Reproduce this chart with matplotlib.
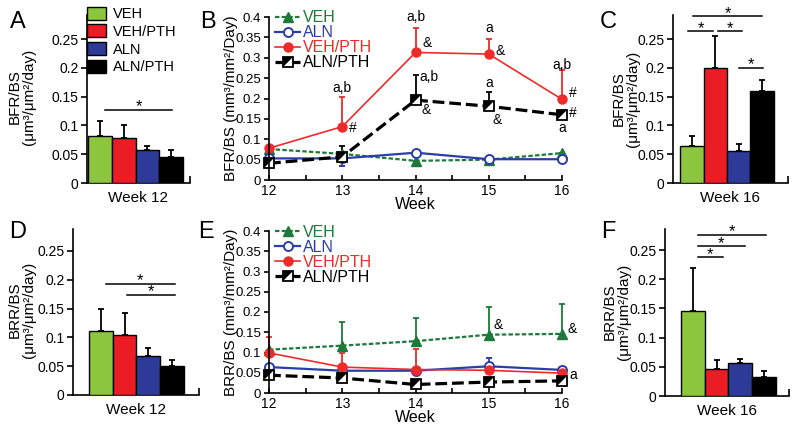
import matplotlib
matplotlib.use('Agg')
import matplotlib.pyplot as plt
import numpy as np

plt.rcParams['font.family'] = ['Liberation Sans', 'DejaVu Sans']
plt.rcParams['lines.scale_dashes'] = False
plt.rcParams['axes.linewidth'] = 1.2

# ---------------- data ----------------
groups = ['VEH', 'VEH/PTH', 'ALN', 'ALN/PTH']
bar_colors = ['#8cc63e', '#ec1c24', '#2e3a97', '#000000']

bfr_wk12 = [0.082, 0.079, 0.057, 0.045]
bfr_wk12_err = [0.026, 0.022, 0.007, 0.013]
bfr_wk16 = [0.065, 0.200, 0.055, 0.160]
bfr_wk16_err = [0.016, 0.055, 0.013, 0.018]
brr_wk12 = [0.111, 0.104, 0.068, 0.050]
brr_wk12_err = [0.039, 0.039, 0.014, 0.010]
brr_wk16 = [0.146, 0.047, 0.056, 0.032]
brr_wk16_err = [0.074, 0.015, 0.008, 0.010]

weeks = [12, 13, 14, 15, 16]
series = ['VEH', 'ALN', 'VEH/PTH', 'ALN/PTH']
line_colors = ['#1d7a3a', '#2b3ea8', '#ee2a2a', '#000000']

bfr_veh = [0.076, 0.064, 0.047, 0.050, 0.066]
bfr_veh_lo = [0, 0, 0.010, 0.011, 0]
bfr_veh_hi = [0, 0, 0, 0, 0]
bfr_aln = [0.053, 0.053, 0.067, 0.051, 0.051]
bfr_aln_lo = [0, 0.018, 0, 0, 0]
bfr_aln_hi = [0, 0, 0, 0, 0]
bfr_vehpth = [0.078, 0.131, 0.313, 0.309, 0.198]
bfr_vehpth_lo = [0, 0, 0, 0, 0]
bfr_vehpth_hi = [0, 0.073, 0.061, 0.038, 0.072]
bfr_alnpth = [0.041, 0.057, 0.196, 0.181, 0.160]
bfr_alnpth_lo = [0, 0, 0, 0, 0]
bfr_alnpth_hi = [0, 0.027, 0.061, 0.035, 0.010]

brr_veh = [0.107, 0.117, 0.128, 0.144, 0.146]
brr_veh_lo = [0, 0, 0, 0, 0]
brr_veh_hi = [0, 0.058, 0.058, 0.069, 0.074]
brr_aln = [0.064, 0.055, 0.055, 0.066, 0.057]
brr_aln_lo = [0, 0, 0, 0, 0]
brr_aln_hi = [0, 0, 0, 0.020, 0]
brr_vehpth = [0.099, 0.064, 0.058, 0.056, 0.049]
brr_vehpth_lo = [0, 0, 0, 0, 0]
brr_vehpth_hi = [0.040, 0.035, 0.050, 0.012, 0]
brr_alnpth = [0.044, 0.037, 0.021, 0.027, 0.030]
brr_alnpth_lo = [0, 0, 0, 0, 0]
brr_alnpth_hi = [0, 0, 0.008, 0, 0]

bar_yticks = [0, 0.05, 0.1, 0.15, 0.2, 0.25]
bar_yticklabels = ['0', '0.05', '0.1', '0.15', '0.2', '0.25']
line_yticks = [0, 0.05, 0.1, 0.15, 0.2, 0.25, 0.3, 0.35, 0.4]
line_yticklabels = ['0', '0.05', '0.1', '0.15', '0.2', '0.25', '0.3', '0.35', '0.4']

# ---------------- figure ----------------
W, H = 800, 432
fig = plt.figure(figsize=(8, 4.32), dpi=100)


def rect(left, top, right, bottom):
    return [left / W, 1 - bottom / H, (right - left) / W, (bottom - top) / H]


def ftext(x, y, s, **kw):
    fig.text(x / W, 1 - y / H, s, **kw)


def bar_panel(r, vals, errs, ylim, xlim, xlabel, sigs):
    ax = fig.add_axes(r)
    x = np.arange(len(vals))
    bars = ax.bar(x, vals, width=1.0, color=bar_colors, edgecolor='black',
                  linewidth=1.0, zorder=3)
    ax.errorbar(x, vals, yerr=[np.zeros(len(vals)), errs], fmt='none',
                ecolor='black', elinewidth=1.3, capsize=2.5, capthick=1.3,
                zorder=2)
    ax.set_ylim(*ylim)
    ax.set_xlim(*xlim)
    ax.spines['top'].set_visible(False)
    ax.spines['right'].set_visible(False)
    ax.set_yticks(bar_yticks)
    ax.set_yticklabels(bar_yticklabels)
    ax.tick_params(axis='y', direction='out', length=4, width=1.2,
                   labelsize=10, pad=2)
    ax.set_xticks([xlim[1]])
    ax.set_xticklabels([''])
    ax.tick_params(axis='x', direction='in', length=5, width=1.2)
    ax.set_xlabel(xlabel, fontsize=11, labelpad=2)
    for (x0, x1, y) in sigs:
        ax.plot([x0, x1], [y, y], color='black', lw=1.1, clip_on=False)
        ax.text((x0 + x1) / 2, y - 0.003, '*', ha='center', va='baseline',
                fontsize=12, clip_on=False)
    return ax, bars


def line_panel(r, data, xlabel):
    ax = fig.add_axes(r)
    handles = []
    for name, (y, lo, hi), col in zip(series, data, line_colors):
        if name == 'VEH':
            kw = dict(color=col, lw=1.6, ls=(0, (3.2, 1.6)), marker='^',
                      ms=6.5, mfc=col, mec=col)
        elif name == 'ALN':
            kw = dict(color=col, lw=1.6, ls='-', marker='o', ms=6.5,
                      mfc='white', mec=col, mew=1.4)
        elif name == 'VEH/PTH':
            kw = dict(color=col, lw=1.2, ls='-', marker='o', ms=6.5,
                      mfc=col, mec=col)
        else:
            kw = dict(color=col, lw=2.3, ls=(0, (8.5, 3.5)), marker='s',
                      ms=7, mfc='white', mec='black', mew=1.3)
        c = ax.errorbar(weeks, y, yerr=[lo, hi], ecolor=col, elinewidth=1.3,
                        capsize=2, capthick=1.3, clip_on=False, **kw)
        for art in c.lines[1]:
            art.set_clip_on(False)
        for art in c.lines[2]:
            art.set_clip_on(False)
        c.lines[0].set_clip_on(False)
        if name == 'ALN/PTH':
            tri, = ax.plot(weeks, y, ls='none',
                           marker=[(-1, -1), (-1, 1), (1, 1)], ms=7,
                           color='black', mew=0, clip_on=False, zorder=4)
            handles.append((c.lines[0], tri))
        else:
            handles.append(c.lines[0])
    ax.set_xlim(12, 16)
    ax.set_ylim(0, 0.4)
    ax.spines['top'].set_visible(False)
    ax.spines['right'].set_visible(False)
    ax.set_xticks(weeks)
    ax.set_xticks([12.5, 13.5, 14.5, 15.5], minor=True)
    ax.tick_params(axis='x', which='both', direction='in', length=3.5,
                   width=1.2, labelsize=10, pad=3)
    ax.set_yticks(line_yticks)
    ax.set_yticklabels(line_yticklabels)
    ax.tick_params(axis='y', direction='out', length=3.5, width=1.2,
                   labelsize=9.5, pad=2)
    ax.set_xlabel(xlabel, fontsize=11.5, labelpad=-1)
    leg = ax.legend(handles, series, loc='upper left',
                    bbox_to_anchor=(0.02, 1.04), frameon=False,
                    fontsize=11.5, handlelength=1.6, handletextpad=0.15,
                    labelspacing=0.0, borderpad=0, borderaxespad=0,
                    handler_map={tuple: matplotlib.legend_handler.HandlerTuple(ndivide=1)})
    for t, col in zip(leg.get_texts(), line_colors):
        t.set_color(col)
    return ax


# ---- Panel A ----
axA, barsA = bar_panel(rect(87, 15, 190, 183), bfr_wk12, bfr_wk12_err,
                       (0, 0.2917), (-0.54, 3.79), 'Week 12',
                       [(0.2, 3.05, 0.127)])
legA = axA.legend(barsA.patches, groups, loc='upper left',
                  bbox_to_anchor=(0.0, 1.05), frameon=False, fontsize=10.5,
                  handlelength=1.3, handleheight=1.0, handletextpad=0.45,
                  labelspacing=0.22, borderpad=0, borderaxespad=0)

# ---- Panel C ----
bar_panel(rect(673, 15, 788, 183), bfr_wk16, bfr_wk16_err,
          (0, 0.2917), (-0.8, 4.1), 'Week 16',
          [(0.05, 3.0, 0.290), (-0.15, 0.9, 0.264), (1.1, 2.15, 0.264),
           (2.0, 3.05, 0.200)])

# ---- Panel D ----
bar_panel(rect(73, 229, 199, 395), brr_wk12, brr_wk12_err,
          (0, 0.288), (-1.17, 4.13), 'Week 12',
          [(0.2, 3.1, 0.193), (1.1, 3.1, 0.174)])

# ---- Panel F ----
bar_panel(rect(665, 229, 789, 396), brr_wk16, brr_wk16_err,
          (0, 0.286), (-1.17, 4.05), 'Week 16',
          [(0.2, 1.27, 0.238), (0.2, 2.2, 0.257), (0.2, 3.1, 0.276)])

# ---- Panel B ----
axB = line_panel(rect(269, 17, 562, 180),
                 [(bfr_veh, bfr_veh_lo, bfr_veh_hi),
                  (bfr_aln, bfr_aln_lo, bfr_aln_hi),
                  (bfr_vehpth, bfr_vehpth_lo, bfr_vehpth_hi),
                  (bfr_alnpth, bfr_alnpth_lo, bfr_alnpth_hi)], 'Week')
annB = [(13.0, 0.226, 'a,b'), (13.15, 0.127, '#'), (14.0, 0.400, 'a,b'),
        (14.16, 0.335, '&'), (15.0, 0.372, 'a'), (15.16, 0.317, '&'),
        (16.0, 0.282, 'a,b'), (16.15, 0.213, '#'), (16.15, 0.164, '#'),
        (16.0, 0.127, 'a'), (14.19, 0.252, 'a,b'), (14.15, 0.171, '&'),
        (15.0, 0.237, 'a'), (15.12, 0.147, '&')]
for x, y, s in annB:
    axB.text(x, y, s, ha='center', va='center', fontsize=10, clip_on=False)

# ---- Panel E ----
axE = line_panel(rect(269, 231, 562, 393),
                 [(brr_veh, brr_veh_lo, brr_veh_hi),
                  (brr_aln, brr_aln_lo, brr_aln_hi),
                  (brr_vehpth, brr_vehpth_lo, brr_vehpth_hi),
                  (brr_alnpth, brr_alnpth_lo, brr_alnpth_hi)], 'Week')
annE = [(15.13, 0.168, '&'), (16.14, 0.158, '&'), (16.15, 0.044, 'a')]
for x, y, s in annE:
    axE.text(x, y, s, ha='center', va='center', fontsize=10, clip_on=False)

# ---- labels ----
for x, y, s in [(18, 22, 'A'), (208, 22, 'B'), (608, 22, 'C'),
                (18, 232, 'D'), (206, 232, 'E'), (608, 232, 'F')]:
    ftext(x, y, s, fontsize=17, ha='center', va='center')

lab2 = dict(rotation=90, ha='center', va='center', fontsize=11,
            linespacing=1.0)
ftext(22, 97, 'BFR/BS\n(μm³/μm²/day)', **lab2)
ftext(626, 99, 'BFR/BS\n(μm³/μm²/day)', **lab2)
ftext(22, 310, 'BRR/BS\n(μm³/μm²/day)', **lab2)
ftext(617, 312, 'BRR/BS\n(μm³/μm²/day)', **lab2)
ftext(231, 98, 'BFR/BS (mm³/mm²/Day)', **lab2)
ftext(231, 312, 'BRR/BS (mm³/mm²/Day)', **lab2)

fig.savefig('out.png', dpi=100)
